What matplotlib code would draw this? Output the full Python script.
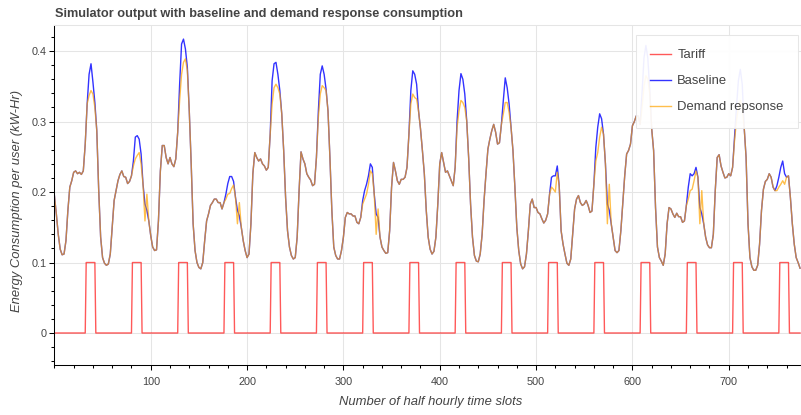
import numpy as np
import matplotlib.pyplot as plt
from matplotlib.ticker import MultipleLocator

plt.rcParams['font.family'] = ['Liberation Sans', 'DejaVu Sans']

TEXT = '#444444'
GRID = '#e5e5e5'

# --- data: half hourly slots, consumption sampled every 2 slots ---
n_slots = 775
slot_step = 2

# one day of tariff (48 half hour slots), peak price window in the evening
tariff_day = [0, 0, 0, 0, 0, 0, 0, 0, 0, 0, 0, 0, 0, 0, 0, 0,
              0, 0, 0, 0, 0, 0, 0, 0, 0, 0, 0, 0, 0, 0, 0, 0,
              0, 0.1, 0.1, 0.1, 0.1, 0.1, 0.1, 0.1, 0.1, 0.1, 0.1, 0, 0, 0, 0, 0]

baseline = [
    0.195, 0.169, 0.140, 0.119, 0.111, 0.112, 0.131, 0.174, 0.207, 0.216, 0.228, 0.230, 0.226, 0.228, 0.225, 0.230, 0.268, 0.325, 0.367, 0.382, 0.356, 0.327, 0.287, 0.202,
    0.136, 0.107, 0.099, 0.096, 0.098, 0.112, 0.150, 0.188, 0.202, 0.216, 0.225, 0.230, 0.222, 0.221, 0.212, 0.215, 0.223, 0.244, 0.278, 0.280, 0.275, 0.254, 0.211, 0.183,
    0.174, 0.159, 0.138, 0.122, 0.117, 0.118, 0.159, 0.230, 0.266, 0.266, 0.249, 0.240, 0.249, 0.240, 0.236, 0.247, 0.285, 0.353, 0.410, 0.417, 0.403, 0.377, 0.315, 0.240,
    0.155, 0.117, 0.100, 0.093, 0.091, 0.100, 0.131, 0.159, 0.169, 0.181, 0.185, 0.190, 0.190, 0.185, 0.185, 0.176, 0.185, 0.197, 0.212, 0.222, 0.222, 0.215, 0.192, 0.174,
    0.166, 0.150, 0.131, 0.117, 0.107, 0.112, 0.155, 0.226, 0.256, 0.249, 0.244, 0.247, 0.240, 0.237, 0.231, 0.235, 0.282, 0.358, 0.382, 0.384, 0.367, 0.344, 0.311, 0.259,
    0.192, 0.145, 0.122, 0.110, 0.105, 0.107, 0.136, 0.202, 0.257, 0.247, 0.240, 0.226, 0.221, 0.217, 0.209, 0.211, 0.249, 0.315, 0.367, 0.379, 0.367, 0.346, 0.315, 0.249,
    0.174, 0.122, 0.110, 0.105, 0.105, 0.117, 0.136, 0.164, 0.171, 0.169, 0.169, 0.166, 0.166, 0.157, 0.155, 0.164, 0.188, 0.202, 0.211, 0.223, 0.240, 0.235, 0.197, 0.169,
    0.164, 0.136, 0.122, 0.117, 0.113, 0.114, 0.145, 0.207, 0.242, 0.230, 0.216, 0.211, 0.218, 0.218, 0.221, 0.235, 0.282, 0.344, 0.372, 0.367, 0.353, 0.315, 0.290, 0.259,
    0.226, 0.174, 0.136, 0.119, 0.112, 0.116, 0.136, 0.183, 0.240, 0.256, 0.242, 0.228, 0.230, 0.223, 0.216, 0.209, 0.235, 0.301, 0.344, 0.368, 0.360, 0.339, 0.301, 0.249,
    0.183, 0.136, 0.110, 0.102, 0.101, 0.112, 0.140, 0.188, 0.226, 0.261, 0.275, 0.287, 0.296, 0.285, 0.268, 0.270, 0.296, 0.330, 0.362, 0.348, 0.325, 0.292, 0.259, 0.207,
    0.150, 0.117, 0.098, 0.091, 0.094, 0.112, 0.145, 0.183, 0.190, 0.178, 0.178, 0.171, 0.169, 0.162, 0.156, 0.160, 0.169, 0.197, 0.221, 0.223, 0.223, 0.237, 0.209, 0.145,
    0.126, 0.112, 0.099, 0.096, 0.105, 0.140, 0.176, 0.190, 0.195, 0.185, 0.181, 0.183, 0.188, 0.181, 0.171, 0.173, 0.211, 0.263, 0.292, 0.311, 0.304, 0.282, 0.240, 0.183,
    0.174, 0.155, 0.136, 0.117, 0.114, 0.117, 0.145, 0.185, 0.223, 0.254, 0.259, 0.268, 0.294, 0.300, 0.308, 0.308, 0.296, 0.340, 0.390, 0.408, 0.390, 0.345, 0.290, 0.259,
    0.178, 0.122, 0.107, 0.102, 0.096, 0.112, 0.155, 0.178, 0.176, 0.169, 0.164, 0.170, 0.165, 0.165, 0.157, 0.159, 0.181, 0.207, 0.226, 0.223, 0.226, 0.235, 0.221, 0.178,
    0.169, 0.155, 0.136, 0.125, 0.121, 0.121, 0.140, 0.202, 0.249, 0.253, 0.237, 0.228, 0.220, 0.221, 0.226, 0.223, 0.235, 0.278, 0.320, 0.358, 0.374, 0.353, 0.292, 0.249,
    0.155, 0.107, 0.094, 0.089, 0.089, 0.096, 0.126, 0.174, 0.204, 0.215, 0.218, 0.226, 0.221, 0.207, 0.202, 0.209, 0.221, 0.235, 0.244, 0.226, 0.221, 0.223, 0.192, 0.155,
    0.126, 0.107, 0.100, 0.092,
]

demand_response = [
    0.195, 0.169, 0.140, 0.119, 0.111, 0.112, 0.131, 0.174, 0.207, 0.216, 0.228, 0.230, 0.226, 0.228, 0.225, 0.230, 0.268, 0.325, 0.337, 0.344, 0.339, 0.320, 0.287, 0.202,
    0.136, 0.107, 0.099, 0.096, 0.098, 0.112, 0.150, 0.188, 0.202, 0.216, 0.225, 0.230, 0.222, 0.221, 0.212, 0.215, 0.223, 0.237, 0.247, 0.252, 0.256, 0.240, 0.211, 0.159,
    0.197, 0.159, 0.138, 0.122, 0.117, 0.118, 0.159, 0.230, 0.266, 0.266, 0.249, 0.240, 0.249, 0.240, 0.236, 0.247, 0.285, 0.330, 0.367, 0.384, 0.389, 0.372, 0.315, 0.240,
    0.155, 0.117, 0.100, 0.093, 0.091, 0.100, 0.131, 0.159, 0.169, 0.181, 0.185, 0.190, 0.190, 0.185, 0.185, 0.176, 0.185, 0.190, 0.197, 0.198, 0.205, 0.210, 0.192, 0.155,
    0.185, 0.150, 0.131, 0.117, 0.107, 0.112, 0.155, 0.226, 0.256, 0.249, 0.244, 0.247, 0.240, 0.237, 0.231, 0.235, 0.282, 0.325, 0.348, 0.353, 0.348, 0.339, 0.311, 0.259,
    0.192, 0.145, 0.122, 0.110, 0.105, 0.107, 0.136, 0.202, 0.257, 0.247, 0.240, 0.226, 0.221, 0.217, 0.209, 0.211, 0.249, 0.306, 0.339, 0.351, 0.348, 0.344, 0.315, 0.249,
    0.174, 0.122, 0.110, 0.105, 0.105, 0.117, 0.136, 0.164, 0.171, 0.169, 0.169, 0.166, 0.166, 0.157, 0.155, 0.164, 0.183, 0.190, 0.197, 0.211, 0.230, 0.226, 0.197, 0.140,
    0.176, 0.136, 0.122, 0.117, 0.113, 0.114, 0.145, 0.207, 0.242, 0.230, 0.216, 0.211, 0.218, 0.218, 0.221, 0.235, 0.282, 0.325, 0.339, 0.334, 0.332, 0.315, 0.290, 0.259,
    0.226, 0.174, 0.136, 0.119, 0.112, 0.116, 0.136, 0.183, 0.240, 0.256, 0.242, 0.228, 0.230, 0.223, 0.216, 0.209, 0.235, 0.292, 0.315, 0.330, 0.327, 0.320, 0.301, 0.249,
    0.183, 0.136, 0.110, 0.102, 0.101, 0.112, 0.140, 0.188, 0.226, 0.261, 0.275, 0.287, 0.296, 0.285, 0.268, 0.270, 0.296, 0.311, 0.327, 0.327, 0.313, 0.292, 0.259, 0.207,
    0.150, 0.117, 0.098, 0.091, 0.094, 0.112, 0.145, 0.183, 0.190, 0.178, 0.178, 0.171, 0.169, 0.162, 0.156, 0.160, 0.169, 0.197, 0.207, 0.204, 0.200, 0.228, 0.209, 0.145,
    0.126, 0.112, 0.099, 0.096, 0.105, 0.140, 0.176, 0.190, 0.195, 0.185, 0.181, 0.183, 0.188, 0.181, 0.171, 0.173, 0.211, 0.244, 0.256, 0.278, 0.292, 0.282, 0.240, 0.155,
    0.211, 0.155, 0.136, 0.117, 0.114, 0.117, 0.145, 0.185, 0.223, 0.254, 0.259, 0.268, 0.294, 0.300, 0.308, 0.308, 0.296, 0.320, 0.350, 0.365, 0.360, 0.340, 0.290, 0.259,
    0.178, 0.122, 0.107, 0.102, 0.096, 0.112, 0.155, 0.178, 0.176, 0.169, 0.164, 0.170, 0.165, 0.165, 0.157, 0.159, 0.181, 0.190, 0.202, 0.204, 0.216, 0.230, 0.221, 0.155,
    0.202, 0.155, 0.136, 0.125, 0.121, 0.121, 0.140, 0.202, 0.249, 0.253, 0.237, 0.228, 0.220, 0.221, 0.226, 0.223, 0.235, 0.273, 0.301, 0.320, 0.330, 0.320, 0.292, 0.249,
    0.155, 0.107, 0.094, 0.089, 0.089, 0.096, 0.126, 0.174, 0.204, 0.215, 0.218, 0.226, 0.221, 0.207, 0.202, 0.202, 0.207, 0.211, 0.216, 0.211, 0.221, 0.223, 0.192, 0.155,
    0.126, 0.107, 0.100, 0.092,
]

x_ticks = [100, 200, 300, 400, 500, 600, 700]
x_tick_labels = ['100', '200', '300', '400', '500', '600', '700']
y_ticks = [0, 0.1, 0.2, 0.3, 0.4]
y_tick_labels = ['0', '0.1', '0.2', '0.3', '0.4']

x_tariff = np.arange(n_slots)
tariff = np.tile(tariff_day, n_slots // len(tariff_day) + 1)[:n_slots]
x_cons = np.arange(0, n_slots, slot_step)

# --- figure ---
W, H = 801, 415
fig = plt.figure(figsize=(W / 100, H / 100), dpi=100)
ax = fig.add_axes([54.4 / W, 50 / H, (W - 54.4) / W, 340 / H])

ax.plot(x_tariff, tariff, color='red', alpha=0.65, lw=1.0, label='Tariff')
ax.plot(x_cons, baseline, color='blue', alpha=0.8, lw=1.0, label='Baseline')
ax.plot(x_cons, demand_response, color='orange', alpha=0.7, lw=1.0, label='Demand repsonse')

ax.set_xlim(0, 775)
ax.set_ylim(-0.0454, 0.437)
ax.set_xticks(x_ticks, x_tick_labels)
ax.set_yticks(y_ticks, y_tick_labels)
ax.xaxis.set_minor_locator(MultipleLocator(20))
ax.yaxis.set_minor_locator(MultipleLocator(0.02))

ax.grid(True, which='major', color=GRID, lw=0.75)
ax.set_axisbelow(True)
for side in ['top', 'right']:
    ax.spines[side].set_color(GRID)
    ax.spines[side].set_linewidth(0.75)
for side in ['left', 'bottom']:
    ax.spines[side].set_color('black')
    ax.spines[side].set_linewidth(0.75)

ax.tick_params(which='major', length=3.6, width=0.75, color='black',
               labelsize=7.8, labelcolor=TEXT)
ax.tick_params(which='minor', length=2.2, width=0.75, color='black')
ax.tick_params(axis='x', which='major', pad=5)
ax.tick_params(axis='y', which='major', pad=2)

fig.text(55 / W, 1 - 17.5 / H, 'Simulator output with baseline and demand response consumption',
         fontsize=9.2, fontweight='bold', color=TEXT, ha='left', va='baseline')
fig.text(431 / W, 1 - 402 / H, 'Number of half hourly time slots',
         fontsize=9.4, style='italic', color=TEXT, ha='center', va='center')
fig.text(17 / W, 1 - 201 / H, 'Energy Consumption per user (kW-Hr)',
         fontsize=9.4, style='italic', color=TEXT, ha='center', va='center', rotation=90)

leg = ax.legend(loc='upper right', bbox_to_anchor=(798 / W, 1 - 35 / H),
                bbox_transform=fig.transFigure, borderaxespad=0,
                fancybox=False, framealpha=0.93, edgecolor=GRID,
                fontsize=9.4, handlelength=1.6, handletextpad=0.46,
                labelspacing=1.05, borderpad=1.1)
leg.get_frame().set_linewidth(0.75)
for t in leg.get_texts():
    t.set_color(TEXT)

fig.savefig('out.png', dpi=100)
